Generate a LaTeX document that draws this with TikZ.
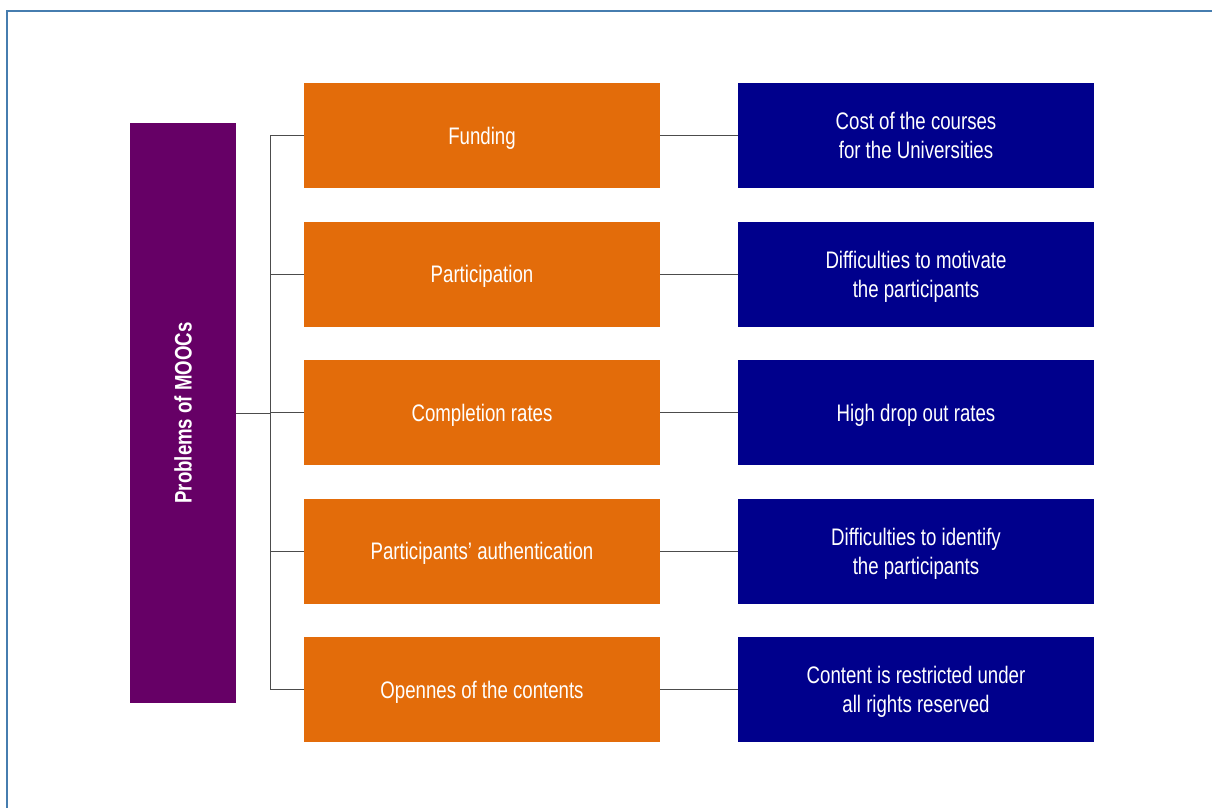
\documentclass[tikz,border=0pt]{standalone}
\usepackage{fontspec}
\setmainfont{Liberation Sans}[FakeStretch=0.78]
\usetikzlibrary{shapes.geometric, arrows}
\definecolor{moocpurple}{RGB}{102,0,102}
\definecolor{mooccorange}{RGB}{227,108,10}
\definecolor{moocblue}{RGB}{0,0,140}
\definecolor{frameblue}{RGB}{70,125,175}
\tikzstyle{root} = [rectangle, minimum width=2.65cm, minimum height=14.5cm, text centered, draw=none, fill=moocpurple, text=white, font=\fontsize{17}{20}\selectfont\bfseries]
\tikzstyle{problem} = [rectangle, minimum width=8.9cm, minimum height=2.625cm, align=center, text depth=0pt, draw=none, fill=mooccorange, text=white, font=\fontsize{17}{20.6}\selectfont]
\tikzstyle{effect} = [rectangle, minimum width=8.9cm, minimum height=2.625cm, align=center, text depth=0pt, draw=none, fill=moocblue, text=white, font=\fontsize{17}{20.6}\selectfont]
\tikzstyle{line} = [draw=black!70, line width=0.6pt]

\begin{document}
\begin{tikzpicture}[node distance=3.4625cm]
		\useasboundingbox (0,0) rectangle (30.3,-20.2);
		\draw [frameblue, line width=1pt] (0.175,-20.2) -- (0.175,-0.275) -- (30.3,-0.275);

		\node (root) [root] at (4.575,-10.325) {\rotatebox{90}{Problems of MOOCs}};

		\node (fund) [problem] at (12.05,-3.3875) {Funding};
		\node (part) [problem, below of=fund] {Participation};
		\node (compl) [problem, below of=part] {Completion rates};
		\node (auth) [problem, below of=compl] {Participants’ authentication};
		\node (open) [problem, below of=auth] {Opennes of the contents};

		\node (cost) [effect] at (22.9,-3.3875) {Cost of the courses\\for the Universities};
		\node (motiv) [effect, below of=cost] {Difficulties to motivate\\the participants};
		\node (drop) [effect, below of=motiv] {High drop out rates};
		\node (ident) [effect, below of=drop] {Difficulties to identify\\the participants};
		\node (restr) [effect, below of=ident] {Content is restricted under\\all rights reserved};

		\coordinate (bus) at (6.75,0);
		\draw [line] (root.east) -- (root.east -| bus);
		\draw [line] (fund.west -| bus) -- (open.west -| bus);
		\foreach \p/\e in {fund/cost, part/motiv, compl/drop, auth/ident, open/restr} {
			\draw [line] (\p.west -| bus) -- (\p.west);
			\draw [line] (\p) -- (\e);
		}
	\end{tikzpicture}
\end{document}
